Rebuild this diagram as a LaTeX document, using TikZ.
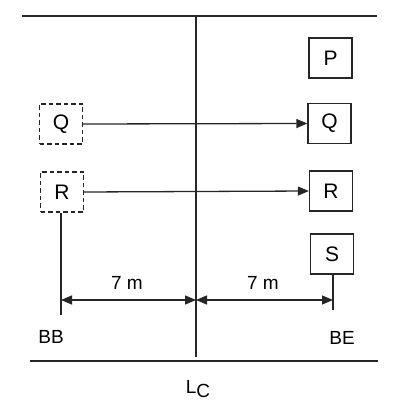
\documentclass[tikz,border=0pt]{standalone}
\usepackage{fontspec}
\setmainfont{Liberation Sans}
\usetikzlibrary{arrows.meta}
\begin{document}
\begin{tikzpicture}[x=1pt,y=-1pt,
  every node/.style={font=\fontsize{19}{22}\selectfont},
  ln/.style={line width=1.3pt, black!85},
  solidbox/.style={draw=black!85, line width=1.3pt, minimum width=43pt, minimum height=40pt, inner sep=0pt, font=\fontsize{21}{24}\selectfont},
  dashbox/.style={solidbox, dashed, dash pattern=on 4.5pt off 3pt},
  arr/.style={ln, -{Triangle[length=11pt,width=9pt]}},
  darr/.style={ln, {Triangle[length=11pt,width=9pt]}-{Triangle[length=11pt,width=9pt]}}]
\useasboundingbox (0,0) rectangle (411,411);
% lines
\coordinate (tl) at (22,16);
\coordinate (tr) at (377,16);
\coordinate (bl) at (30,361);
\coordinate (br) at (378,361);
\coordinate (ct) at (196,16);
\coordinate (cb) at (196,357);
\draw[ln] (tl) -- (tr);
\draw[ln] (bl) -- (br);
\draw[ln] (ct) -- (cb);
% boxes
\node[solidbox] (P) at (330.5,58) {P};
\node[solidbox] (Q) at (329.5,123.5) {Q};
\node[solidbox] (R) at (331,191) {R};
\node[solidbox] (S) at (332,254) {S};
\node[dashbox] (Qd) at (61,124) {Q};
\node[dashbox] (Rd) at (62,192) {R};
% arrows
\draw[arr] (Qd.east) -- (Q.west);
\draw[arr] (Rd.east) -- (R.west);
% stems
\coordinate (bbend) at (61,315);
\coordinate (beend) at (333,310);
\coordinate (dl) at (61,300);
\coordinate (dc) at (196,300);
\coordinate (dr) at (333,300);
\draw[ln] (Rd.south -| bbend) -- (bbend);
\draw[ln] (S.south -| beend) -- (beend);
\draw[darr] (dl) -- (dc);
\draw[darr] (dc) -- (dr);
\node (m1) at (127,283) {7 m};
\node (m2) at (263,283) {7 m};
\node (BB) at (51,337) {BB};
\node (BE) at (342,338) {BE};
\node (LC) at (198,389) {L\raisebox{-0.45ex}{C}};
\end{tikzpicture}
\end{document}
